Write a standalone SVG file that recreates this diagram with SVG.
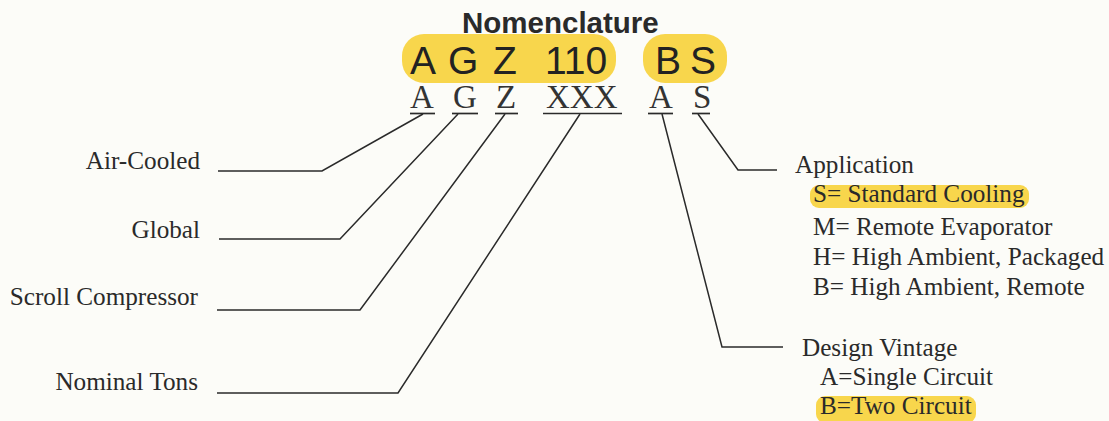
<svg xmlns="http://www.w3.org/2000/svg" width="1109" height="421" viewBox="0 0 1109 421">
<style>
.bg{fill:#fcfcf8}
.hl{fill:#f8d64c}
.title{font-family:"Liberation Sans",Arial,sans-serif;font-weight:bold;font-size:29.5px;fill:#2a2a2a}
.big{font-family:"Liberation Sans",Arial,sans-serif;font-size:39px;fill:#222}
.code{font-family:"Liberation Serif","Times New Roman",serif;font-size:33px;fill:#333}
.lbl{font-family:"Liberation Serif","Times New Roman",serif;font-size:25.2px;fill:#2a2a2a}
.ul{stroke:#2a2a2a;stroke-width:1.7}
.conn{fill:none;stroke:#2a2a2a;stroke-width:1.5}
</style>
<rect class="bg" x="0" y="0" width="1109" height="421"/>
<g id="title">
<text class="title" x="462" y="33">Nomenclature</text>
</g>
<g id="model">
<rect class="hl" x="402" y="34" width="214" height="49" rx="22"/>
<rect class="hl" x="643" y="34" width="84" height="49" rx="22"/>
<text class="big" x="410" y="74">A</text>
<text class="big" x="448" y="74">G</text>
<text class="big" x="493" y="74">Z</text>
<text class="big" x="545" y="74">110</text>
<text class="big" x="655" y="74">B</text>
<text class="big" x="690" y="74">S</text>
</g>
<g id="code">
<text class="code" x="410" y="108">A</text>
<text class="code" x="453" y="108">G</text>
<text class="code" x="496" y="108">Z</text>
<text class="code" x="546" y="108">XXX</text>
<text class="code" x="649" y="108">A</text>
<text class="code" x="693" y="108">S</text>
<line class="ul" x1="410" y1="113.5" x2="435" y2="113.5"/>
<line class="ul" x1="452" y1="113.5" x2="478" y2="113.5"/>
<line class="ul" x1="495" y1="113.5" x2="518" y2="113.5"/>
<line class="ul" x1="543" y1="113.5" x2="622" y2="113.5"/>
<line class="ul" x1="648" y1="113.5" x2="673" y2="113.5"/>
<line class="ul" x1="692" y1="113.5" x2="710" y2="113.5"/>
</g>
<g id="connectors">
<polyline class="conn" points="218,171 322,171 423,114"/>
<polyline class="conn" points="219,239 340,239 458,114"/>
<polyline class="conn" points="217,310 360,310 505,114"/>
<polyline class="conn" points="217,393 398,393 580,114"/>
<polyline class="conn" points="662,114 722,347 783,347"/>
<polyline class="conn" points="698,114 738,170 777,170"/>
</g>
<g id="air-cooled">
<text class="lbl" x="200" y="169" text-anchor="end">Air-Cooled</text>
</g>
<g id="global">
<text class="lbl" x="200" y="238" text-anchor="end">Global</text>
</g>
<g id="scroll-compressor">
<text class="lbl" x="198" y="305" text-anchor="end">Scroll Compressor</text>
</g>
<g id="nominal-tons">
<text class="lbl" x="198" y="390" text-anchor="end">Nominal Tons</text>
</g>
<g id="application">
<rect class="hl" x="810" y="185" width="219" height="23" rx="9"/>
<text class="lbl" x="795" y="173">Application</text>
<text class="lbl" x="813" y="202">S= Standard Cooling</text>
<text class="lbl" x="813" y="235">M= Remote Evaporator</text>
<text class="lbl" x="813" y="265">H= High Ambient, Packaged</text>
<text class="lbl" x="813" y="295">B= High Ambient, Remote</text>
</g>
<g id="design-vintage">
<rect class="hl" x="816" y="396" width="160" height="27" rx="9"/>
<text class="lbl" x="802" y="356">Design Vintage</text>
<text class="lbl" x="820" y="385">A=Single Circuit</text>
<text class="lbl" x="820" y="414">B=Two Circuit</text>
</g>
</svg>
